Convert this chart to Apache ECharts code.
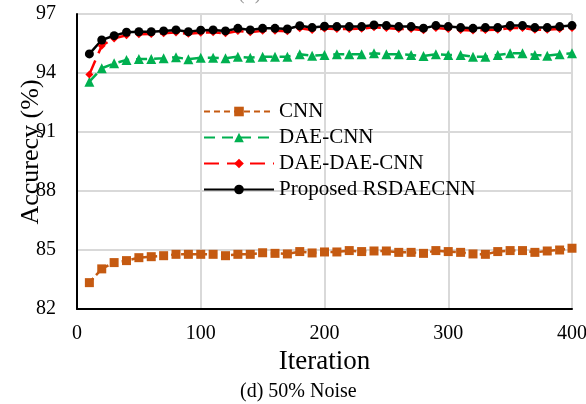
<!DOCTYPE html>
<html>
<head>
<meta charset="utf-8">
<script src="https://cdn.jsdelivr.net/npm/echarts@6/dist/echarts.min.js"></script>
<style>html,body{margin:0;padding:0;background:#fff;}#c{width:586px;height:404px;}</style>
</head>
<body>
<div id="c"></div>
<script>
const iterations = [10,20,30,40,50,60,70,80,90,100,110,120,130,140,150,160,170,180,190,200,210,220,230,240,250,260,270,280,290,300,310,320,330,340,350,360,370,380,390,400];
const cnn = [83.34,84.04,84.36,84.46,84.61,84.66,84.71,84.78,84.78,84.78,84.78,84.71,84.78,84.78,84.86,84.83,84.80,84.92,84.85,84.90,84.90,84.97,84.92,84.95,84.95,84.88,84.88,84.83,84.97,84.92,84.88,84.80,84.78,84.92,84.97,84.97,84.88,84.95,85.00,85.09];
const daeCnn = [93.56,94.24,94.49,94.66,94.71,94.71,94.75,94.80,94.70,94.78,94.78,94.75,94.83,94.78,94.83,94.83,94.83,94.95,94.88,94.92,94.95,94.95,94.95,95.00,94.95,94.95,94.92,94.86,94.95,94.92,94.92,94.83,94.83,94.92,95.00,95.00,94.92,94.88,94.95,95.00];
const daeDaeCnn = [93.93,95.39,95.76,95.92,95.97,95.98,96.02,96.06,95.99,96.05,96.07,96.02,96.14,96.07,96.15,96.15,96.12,96.27,96.19,96.26,96.24,96.24,96.25,96.32,96.29,96.24,96.24,96.17,96.29,96.24,96.19,96.16,96.19,96.20,96.29,96.29,96.20,96.20,96.24,96.29];
const proposed = [94.97,95.68,95.90,96.07,96.10,96.10,96.14,96.19,96.10,96.18,96.19,96.14,96.27,96.19,96.27,96.27,96.24,96.40,96.31,96.38,96.36,96.36,96.36,96.44,96.41,96.36,96.36,96.28,96.41,96.36,96.31,96.27,96.31,96.31,96.41,96.41,96.31,96.31,96.36,96.41];
const yTicks = [82,85,88,91,94,97];
const xTicks = [0,100,200,300,400];

const pair = arr => iterations.map((x,i)=>[x,arr[i]]);
const serif = '"Liberation Serif","Times New Roman",serif';

const chart = echarts.init(document.getElementById('c'), null, {renderer:'canvas'});
chart.setOption({
  animation:false,
  backgroundColor:'#fff',
  grid:{left:77,right:14,top:14,bottom:95,containLabel:false,outerBoundsMode:'none'},
  xAxis:{
    type:'value', min:xTicks[0], max:xTicks[xTicks.length-1], interval:100,
    name:'Iteration', nameLocation:'middle', nameGap:34,
    nameTextStyle:{fontFamily:serif,fontSize:27,color:'#000'},
    axisLine:{show:true,lineStyle:{color:'#000',width:2}},
    axisTick:{show:false},
    axisLabel:{fontFamily:serif,fontSize:20,color:'#000',margin:15},
    splitLine:{show:true,lineStyle:{color:'#d9d9d9',width:2}}
  },
  yAxis:{
    type:'value', min:yTicks[0], max:yTicks[yTicks.length-1], interval:3,
    axisLine:{show:true,lineStyle:{color:'#000',width:2}},
    axisTick:{show:false},
    axisLabel:{fontFamily:serif,fontSize:20,color:'#000',margin:21},
    splitLine:{show:true,lineStyle:{color:'#d9d9d9',width:2}}
  },
  legend:{
    orient:'vertical', left:203, top:101, padding:0, itemWidth:70, itemHeight:12, itemGap:5,
    textStyle:{fontFamily:serif,fontSize:21,color:'#000',lineHeight:21},
    data:['CNN','DAE-CNN','DAE-DAE-CNN','Proposed RSDAECNN']
  },
  series:[
    {name:'CNN',type:'line',data:pair(cnn),symbol:'rect',symbolSize:9,
     itemStyle:{color:'#C55A11'},lineStyle:{color:'#C55A11',width:2.5,type:[6,4]}},
    {name:'DAE-CNN',type:'line',data:pair(daeCnn),symbol:'triangle',symbolSize:10,
     itemStyle:{color:'#00B050'},lineStyle:{color:'#00B050',width:2.5,type:[11,7]}},
    {name:'DAE-DAE-CNN',type:'line',data:pair(daeDaeCnn),symbol:'diamond',symbolSize:8,
     itemStyle:{color:'#FF0000'},lineStyle:{color:'#FF0000',width:2.5,type:[15,8]}},
    {name:'Proposed RSDAECNN',type:'line',data:pair(proposed),symbol:'circle',symbolSize:9,
     itemStyle:{color:'#000'},lineStyle:{color:'#000',width:2.5,type:'solid'}}
  ],
  graphic:[
    {type:'text',x:31,y:152,rotation:Math.PI/2,style:{text:'Accurecy (%)',font:'26px "Liberation Serif", serif',fill:'#000',align:'center',verticalAlign:'middle'}},
    {type:'text',left:240,top:382,style:{text:'(d) 50% Noise',font:'20px "Liberation Serif", serif',fill:'#000'}},
    {type:'text',left:238,top:-16,style:{text:'(d)',font:'20px "Liberation Serif", serif',fill:'#999'}}
  ]
});
</script>
</body>
</html>
